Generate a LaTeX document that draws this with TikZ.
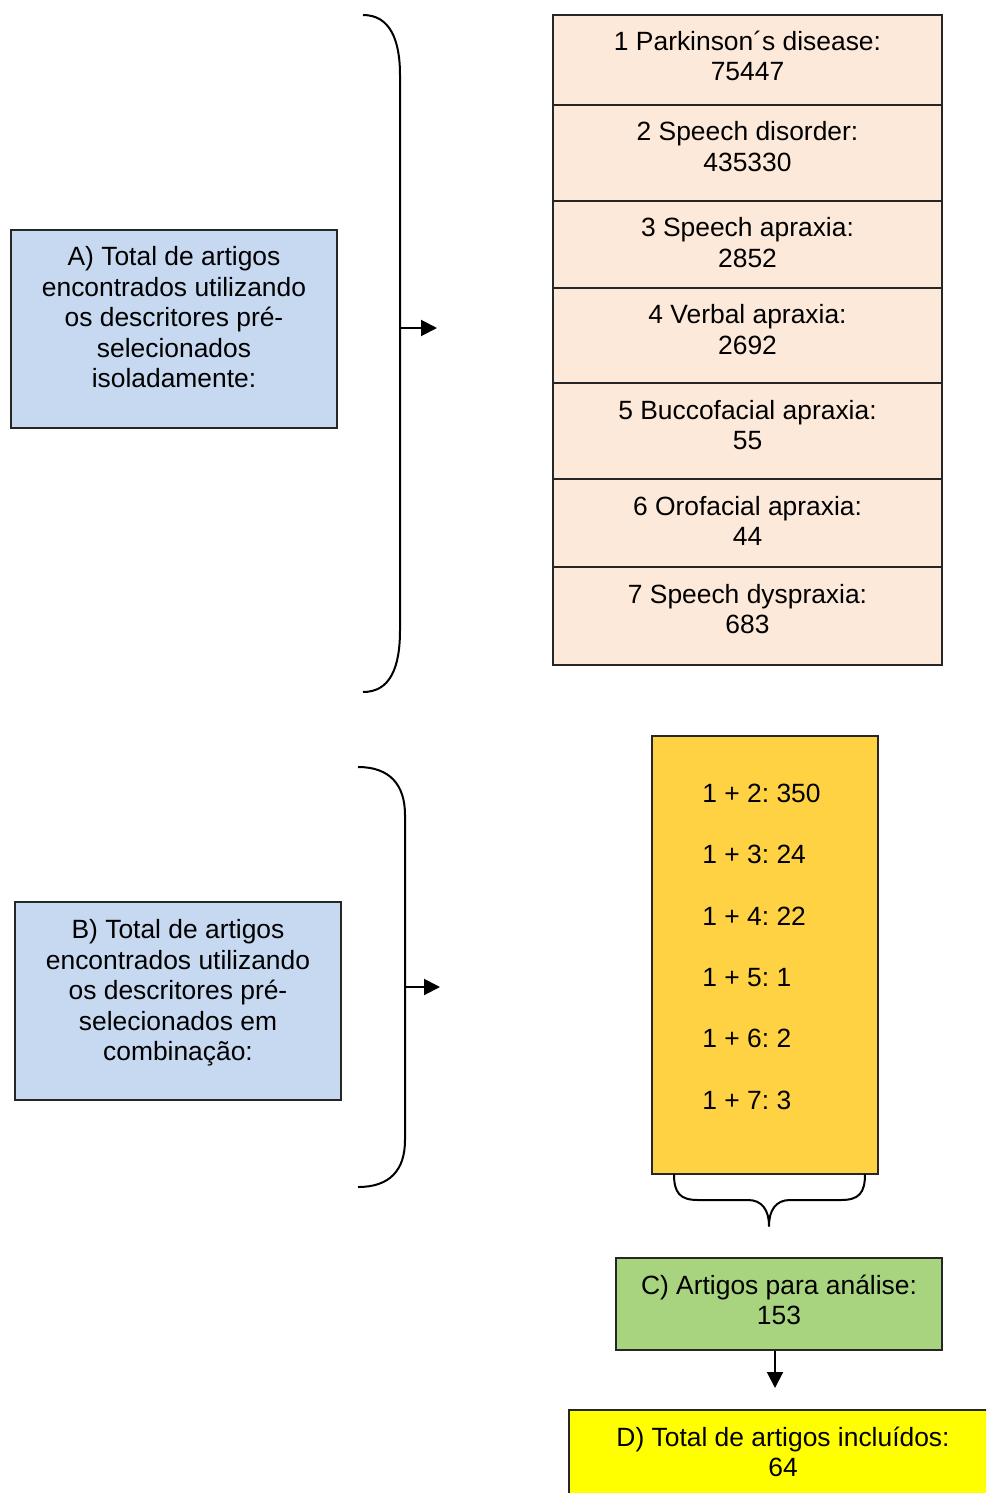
\documentclass[tikz,border=0pt]{standalone}
\usepackage{fontspec}
\setmainfont{Liberation Sans}
\frenchspacing
\usetikzlibrary{arrows.meta,positioning}
\definecolor{boxblue}{HTML}{C6D9F1}
\definecolor{rowpeach}{HTML}{FDE9D9}
\definecolor{boxorange}{HTML}{FFD243}
\definecolor{boxgreen}{HTML}{A9D47F}
\definecolor{boxyellow}{HTML}{FFFF00}
\tikzset{
BOX/.style={draw=black!85,line width=0.6pt,inner sep=0,fill=#1},
BOX/.default=boxblue,
TXT/.style={align=center,inner sep=0,font=\fontsize{13.2}{15.25}\selectfont},
BRACE/.style={draw=black,line width=1pt,line join=round},
ARROW/.style={draw=black,line width=1pt,-{Triangle[length=8pt,width=8pt]}},
}

\begin{document}
\begin{tikzpicture}[x=0.5pt,y=-0.5pt]
	\clip (0,0) rectangle (986,1493);
	%Descriptors alone
	\node[BOX,minimum width=163pt,minimum height=99pt] (boxA) at (174,329) {};
	\node[TXT] (txtA) at (174,317.5) {A) Total de artigos\\encontrados utilizando\\os descritores pré-\\selecionados\\isoladamente:};
	\foreach \i/\y/\h/\c/\txt in {1/60/45/56/{1 Parkinson´s disease:\\75447},
		2/153/48/146.5/{2 Speech disorder:\\435330},
		3/244.5/43.5/242.5/{3 Speech apraxia:\\2852},
		4/335.5/47.5/329.5/{4 Verbal apraxia:\\2692},
		5/431/48/425/{5 Buccofacial apraxia:\\55},
		6/523/44/521/{6 Orofacial apraxia:\\44},
		7/616/49/609/{7 Speech dyspraxia:\\683}}{
		\node[BOX=rowpeach,minimum width=194.5pt,minimum height=\h pt] (r\i) at (747.5,\y) {};
		\node[TXT] (t\i) at (747.5,\c) {\txt};
	}
	\coordinate (braceA) at (400,328);
	\coordinate (tipA) at (437,328);
	\path[BRACE] (363,15) .. controls (390,15) and (400,40) .. (400,75)
		-- (400,630) .. controls (400,668) and (390,692) .. (363,692);
	\draw[ARROW] (braceA) -- (tipA);
	%Descriptors in combination
	\node[BOX,minimum width=163pt,minimum height=99pt] (boxB) at (178,1001) {};
	\node[TXT] (txtB) at (178,993) {B) Total de artigos\\encontrados utilizando\\os descritores pré-\\selecionados em\\combinação:};
	\node[BOX=boxorange,minimum width=113pt,minimum height=219pt] (comb) at (765,955) {};
	\foreach \j/\txt in {1/{1 + 2: 350},2/{1 + 3: 24},3/{1 + 4: 22},4/{1 + 5: 1},5/{1 + 6: 2},6/{1 + 7: 3}}
		\node[TXT,anchor=west] (c\j) at (702,{793+61.4*(\j-1)}) {\txt};
	\coordinate (braceB) at (405,987);
	\coordinate (tipB) at (440,987);
	\path[BRACE] (358,767) .. controls (390,767) and (405,785) .. (405,815)
		-- (405,1140) .. controls (405,1170) and (390,1187) .. (358,1187);
	\draw[ARROW] (braceB) -- (tipB);
	%Selection
	\path[BRACE] (674,1174) .. controls (674,1193) and (680,1200) .. (698,1200)
		-- (748,1200) .. controls (762,1200) and (769,1210) .. (769,1226)
		.. controls (769,1210) and (776,1200) .. (790,1200)
		-- (841,1200) .. controls (859,1200) and (865,1193) .. (865,1174);
	\node[BOX=boxgreen,minimum width=163pt,minimum height=46pt] (boxC) at (779,1304) {};
	\node[TXT] (txtC) at (779,1300) {C) Artigos para análise:\\153};
	\node[BOX=boxyellow,minimum width=214pt,minimum height=46pt] (boxD) at (783,1456) {};
	\node[TXT] (txtD) at (783,1452) {D) Total de artigos incluídos:\\64};
	\coordinate (tipC) at (775,1388);
	\draw[ARROW] ([xshift=-2pt]boxC.south) -- (tipC);
\end{tikzpicture}
\end{document}
